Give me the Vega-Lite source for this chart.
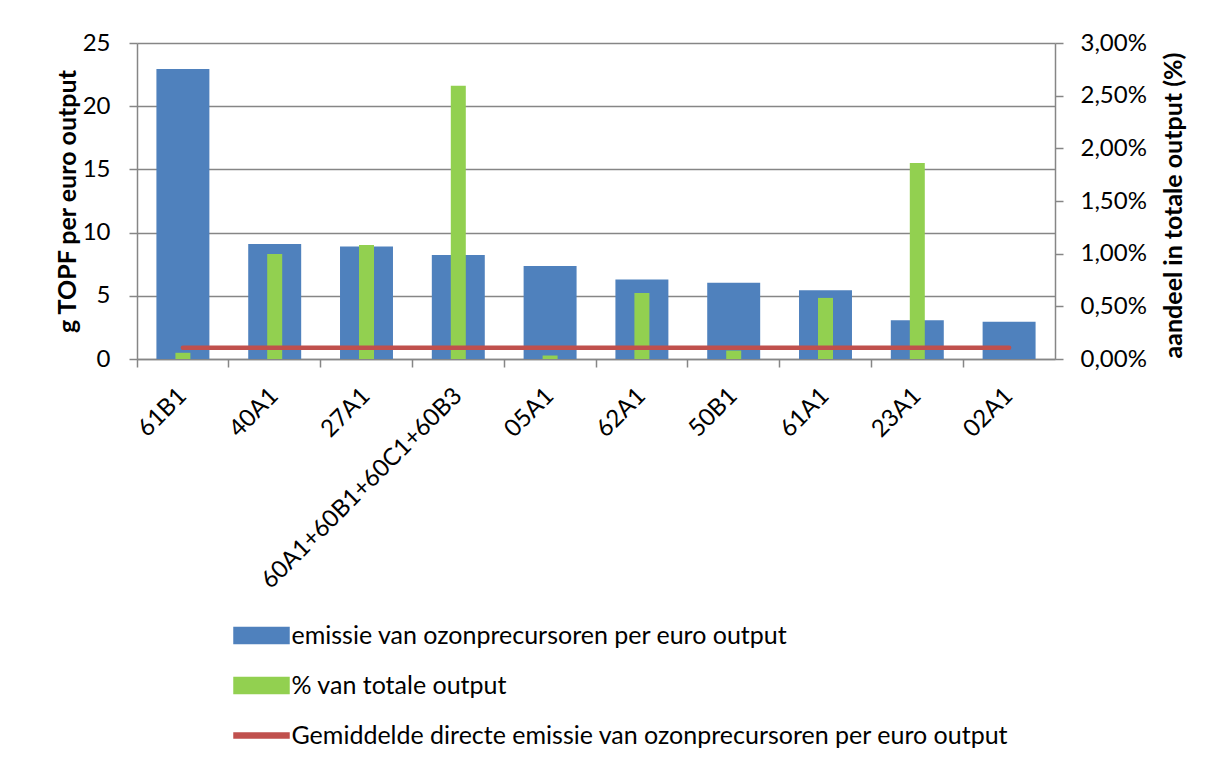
{
  "$schema": "https://vega.github.io/schema/vega-lite/v6.json",
  "width": 918,
  "height": 316,
  "autosize": {"type": "none"},
  "padding": {"left": 137, "top": 43, "right": 154, "bottom": 401},
  "background": "white",
  "config": {
    "font": "Lato",
    "view": {"stroke": null},
    "axis": {
      "labelFont": "Lato",
      "labelFontSize": 24,
      "labelColor": "#000000",
      "titleFont": "Lato",
      "titleFontSize": 25,
      "titleFontWeight": "bold",
      "titleColor": "#000000",
      "domainColor": "#868686",
      "domainWidth": 1.5,
      "tickColor": "#868686",
      "tickWidth": 1.5,
      "tickSize": 8,
      "gridColor": "#868686",
      "gridWidth": 1.5
    }
  },
  "data": {
    "values": [
      {"sector": "61B1", "emissie": 22.95, "aandeel": 0.059, "gemiddelde": 0.885},
      {"sector": "40A1", "emissie": 9.10, "aandeel": 0.997, "gemiddelde": 0.885},
      {"sector": "27A1", "emissie": 8.91, "aandeel": 1.082, "gemiddelde": 0.885},
      {"sector": "60A1+60B1+60C1+60B3", "emissie": 8.23, "aandeel": 2.595, "gemiddelde": 0.885},
      {"sector": "05A1", "emissie": 7.36, "aandeel": 0.033, "gemiddelde": 0.885},
      {"sector": "62A1", "emissie": 6.28, "aandeel": 0.627, "gemiddelde": 0.885},
      {"sector": "50B1", "emissie": 6.04, "aandeel": 0.080, "gemiddelde": 0.885},
      {"sector": "61A1", "emissie": 5.43, "aandeel": 0.580, "gemiddelde": 0.885},
      {"sector": "23A1", "emissie": 3.07, "aandeel": 1.860, "gemiddelde": 0.885},
      {"sector": "02A1", "emissie": 2.94, "aandeel": 0.0, "gemiddelde": 0.885}
    ]
  },
  "layer": [
    {
      "mark": {"type": "bar"},
      "encoding": {
        "x": {
          "field": "sector", "type": "nominal", "sort": null,
          "scale": {"paddingInner": 0.423, "paddingOuter": 0.2115},
          "axis": {
            "title": null, "orient": "bottom", "ticks": false, "domain": true,
            "labelAngle": -45, "labelAlign": "right", "labelBaseline": "middle",
            "labelPadding": 33, "labelOverlap": false, "labelLimit": 400
          }
        },
        "y": {
          "field": "emissie", "type": "quantitative",
          "scale": {"domain": [0, 25], "nice": false, "zero": true},
          "axis": {
            "orient": "left", "values": [0, 5, 10, 15, 20, 25], "grid": true,
            "labelPadding": 19,
            "title": "g TOPF per euro output",
            "titleAngle": 270, "titleX": -70, "titleY": 158,
            "titleAlign": "center", "titleBaseline": "middle"
          }
        },
        "color": {
          "datum": "emissie van ozonprecursoren per euro output",
          "scale": {
            "domain": [
              "emissie van ozonprecursoren per euro output",
              "% van totale output",
              "Gemiddelde directe emissie van ozonprecursoren per euro output"
            ],
            "range": ["#4F81BD", "#92D050", "#C0504D"]
          },
          "legend": {
            "title": null,
            "orient": "none",
            "legendX": 110,
            "legendY": 578,
            "direction": "vertical",
            "padding": 0,
            "rowPadding": 22,
            "symbolSize": 756,
            "symbolType": "M-2,-0.58H2V0.58H-2Z",
            "labelOffset": 15.5,
            "labelFont": "Lato",
            "labelFontSize": 25,
            "labelColor": "#000000",
            "labelLimit": 1000,
            "encode": {
              "symbols": {
                "update": {
                  "shape": {"signal": "datum.value === 'Gemiddelde directe emissie van ozonprecursoren per euro output' ? 'M-2,-0.18H2V0.18H-2Z' : 'M-2,-0.58H2V0.58H-2Z'"},
                  "fill": {"scale": "color", "field": "value"},
                  "stroke": {"value": "transparent"},
                  "opacity": {"value": 1}
                }
              }
            }
          }
        }
      }
    },
    {
      "mark": {"type": "bar", "width": 15},
      "encoding": {
        "x": {
          "field": "sector", "type": "nominal", "sort": null,
          "axis": {
            "title": null, "orient": "bottom", "labels": false, "ticks": true,
            "domain": false, "bandPosition": -0.366
          }
        },
        "y": {
          "field": "aandeel", "type": "quantitative",
          "scale": {"domain": [0, 3], "nice": false, "zero": true},
          "axis": {
            "orient": "right", "values": [0, 0.5, 1, 1.5, 2, 2.5, 3], "grid": false,
            "labelPadding": 17,
            "labelExpr": "replace(format(datum.value, '.2f'), '.', ',') + '%'",
            "title": "aandeel in totale output (%)",
            "titleAngle": 270, "titleX": 118, "titleY": 162,
            "titleAlign": "center", "titleBaseline": "middle"
          }
        },
        "color": {"datum": "% van totale output"}
      }
    },
    {
      "mark": {"type": "line", "strokeWidth": 4.5, "strokeCap": "round"},
      "encoding": {
        "x": {"field": "sector", "type": "nominal", "sort": null, "axis": null},
        "y": {
          "field": "gemiddelde", "type": "quantitative",
          "scale": {"domain": [0, 25], "nice": false, "zero": true},
          "axis": null
        },
        "color": {"datum": "Gemiddelde directe emissie van ozonprecursoren per euro output"}
      }
    }
  ],
  "resolve": {"scale": {"y": "independent"}, "axis": {"x": "independent", "y": "independent"}}
}
